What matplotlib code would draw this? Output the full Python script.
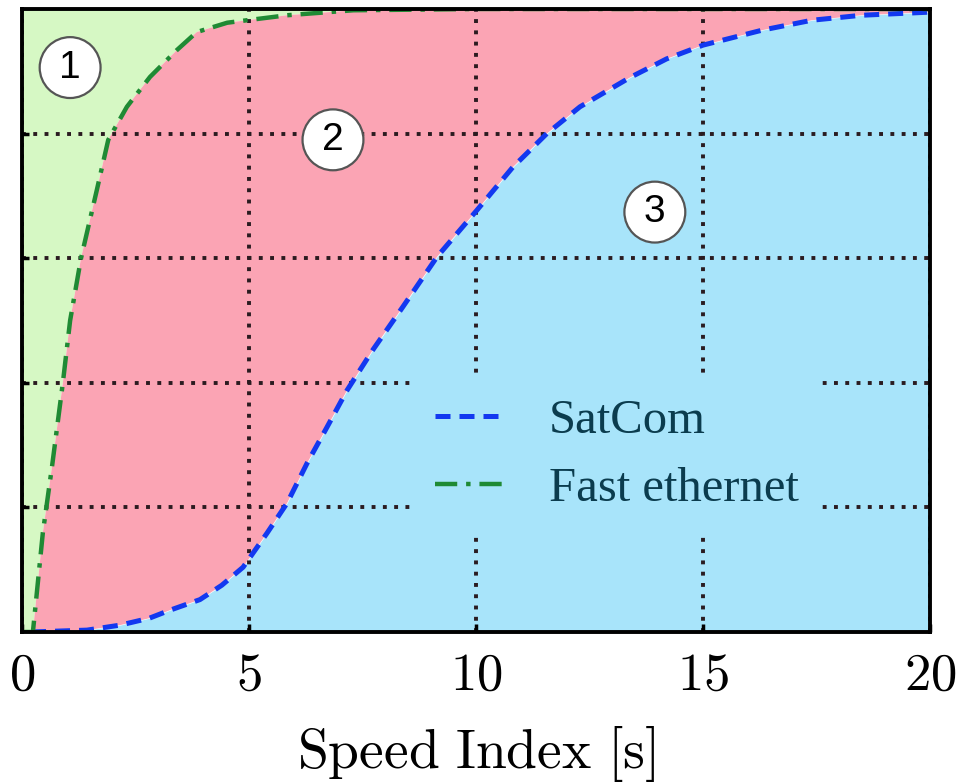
import matplotlib
matplotlib.use("Agg")
import matplotlib.pyplot as plt
import numpy as np

# === Data ===
eth_x = [0.0, 0.24, 0.46, 0.66, 0.9, 1.06, 1.3, 1.65, 1.9, 2.31, 2.82, 3.41, 3.85, 4.52, 5.84, 7.3, 10.0, 20.0]
eth_y = [0.0, 0.0, 0.16, 0.265, 0.40, 0.50, 0.60, 0.71, 0.79, 0.843, 0.891, 0.934, 0.963, 0.978, 0.99, 0.998, 1.0, 1.0]

sat_x = [0.2, 1.43, 2.16, 2.8, 3.26, 3.92, 4.4, 4.87, 5.4, 5.84, 6.28, 6.72, 7.16, 7.73, 8.39, 9.14,
         10.02, 10.81, 11.56, 12.29, 13.39, 14.2, 15.0, 16.3, 17.4, 18.5, 20.0]
sat_y = [0.0, 0.003, 0.011, 0.022, 0.035, 0.052, 0.075, 0.104, 0.159, 0.207, 0.271, 0.329, 0.388, 0.453, 0.522, 0.602,
         0.677, 0.746, 0.80, 0.843, 0.89, 0.92, 0.942, 0.966, 0.982, 0.99, 0.995]

xticks = [0, 5, 10, 15, 20]
yticks = [0.2, 0.4, 0.6, 0.8]

# region markers: (label, x, y)
regions = [("1", 1.06, 0.906), ("2", 6.85, 0.79), ("3", 13.94, 0.674)]

# === Colours ===
c_green_fill = "#d6f8c4"
c_red_fill = "#fba4b4"
c_blue_fill = "#a8e4fa"
c_sat = "#1238f0"
c_eth = "#1f8a34"

plt.rcParams["mathtext.fontset"] = "cm"

fig = plt.figure(figsize=(9.61, 7.84), dpi=100)
ax = fig.add_axes([0.0229, 0.1939, 0.9448, 0.7946])

# === Filled regions ===
ex = np.array(eth_x)
ey = np.array(eth_y)
sx = np.array(sat_x)
sy = np.array(sat_y)
ax.fill(np.r_[ex, 0.0], np.r_[ey, 1.0], color=c_green_fill, lw=0, zorder=1)
ax.fill(np.r_[ex, sx[::-1]], np.r_[ey, sy[::-1]], color=c_red_fill, lw=0, zorder=1)
ax.fill_between(np.r_[0.0, sx], np.r_[0.0, sy], 0, color=c_blue_fill, lw=0, zorder=1)

# === Curves ===
ax.plot(sat_x, sat_y, color=c_sat, lw=3.6, ls=(0, (3.0, 1.8)), label="SatCom", zorder=3)
ax.plot(eth_x, eth_y, color=c_eth, lw=3.2, ls=(0, (5, 2.0, 1, 2.0)), label="Fast ethernet", zorder=3)

# === Circled region numbers ===
for lab, x, y in regions:
    ax.text(x, y, lab, ha="center", va="center", fontsize=28, family="Liberation Sans", zorder=6,
            bbox=dict(boxstyle="circle,pad=0.32", fc="white", ec="#555555", lw=1.6))

# === Axes styling ===
ax.set_xlim(0, 20)
ax.set_ylim(0, 1)
ax.set_xticks(xticks, labels=[f"${t}$" for t in xticks])
ax.set_yticks(yticks, labels=[])
ax.tick_params(axis="x", direction="in", length=6, width=2.5, labelsize=38, pad=12)
ax.tick_params(axis="y", direction="in", length=5, width=2.5)
ax.grid(True, ls=(0, (1, 1.9)), lw=2.8, color="#2a1b20")
ax.set_axisbelow(False)
for s in ax.spines.values():
    s.set_linewidth(2.8)
    s.set_color("black")
    s.set_zorder(4)

ax.set_xlabel(r"$\mathrm{Speed\ Index\ [s]}$", fontsize=40, labelpad=17)

leg = ax.legend(loc="center", bbox_to_anchor=(0.655, 0.284), frameon=True, fancybox=False,
                facecolor=c_blue_fill, edgecolor="none", framealpha=1,
                prop={"family": "Liberation Serif", "size": 35},
                handlelength=1.4, handletextpad=0.95, labelspacing=0.5, borderpad=0.45)
for t in leg.get_texts():
    t.set_color("#0b3c4e")
leg.set_zorder(5)

plt.savefig("out.png", dpi=100)
